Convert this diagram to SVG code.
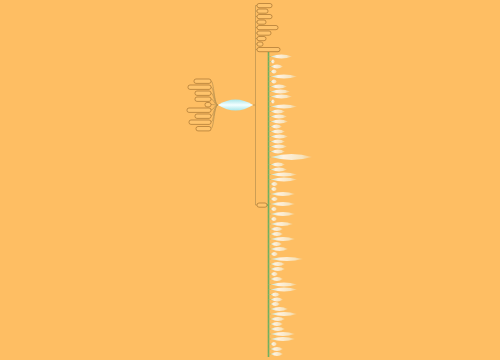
<svg xmlns="http://www.w3.org/2000/svg" width="500" height="360" viewBox="0 0 500 360">
<defs>
<linearGradient id="lg" x1="0" y1="0" x2="1" y2="0">
<stop offset="0" stop-color="#b9ece6" stop-opacity="0.9"/>
<stop offset="0.3" stop-color="#ffffff" stop-opacity="0.8"/>
<stop offset="0.75" stop-color="#f2fdfb" stop-opacity="0.6"/>
<stop offset="1" stop-color="#e8f8f2" stop-opacity="0.2"/>
</linearGradient>
<linearGradient id="cg" x1="0" y1="0" x2="0" y2="1">
<stop offset="0" stop-color="#a9e6ea"/>
<stop offset="0.5" stop-color="#f4ffff"/>
<stop offset="1" stop-color="#a9e6ea"/>
</linearGradient>
<style>
.box{fill:#ffc46c;stroke:#a87430;stroke-width:0.7}
.leaf{fill:url(#lg);stroke:none}
.br{fill:none;stroke:#c09650;stroke-width:0.8}
.gr{fill:none;stroke:#6fae5e;stroke-width:1.6}
.tk{fill:none;stroke:#9cc37a;stroke-width:0.6}
</style>
</defs>
<rect width="500" height="360" fill="#febe63"/>
<g id="connectors">
<path class="br" d="M218,105 C214,105 214,81 211,81 M218,105 C214,105 214,87 211,87 M218,105 C214,105 214,93 211,93 M218,105 C214,105 214,99 211,99 M218,105 C214,105 214,104.5 211,104.5 M218,105 C214,105 214,110 211,110 M218,105 C214,105 214,116 211,116 M218,105 C214,105 214,122 211,122 M218,105 C214,105 214,128.5 211,128.5"/>
<path class="br" d="M253,105 H255.5 M255.5,5.5 V205 M255.5,5.5 H257 M255.5,11 H257 M255.5,16.5 H257 M255.5,22 H257 M255.5,27.5 H257 M255.5,33 H257 M255.5,38.5 H257 M255.5,44 H257 M255.5,49.5 H257 M255.5,205 H257"/>
<path class="gr" d="M267,205 H268.5 M268.5,52 V357"/>
<path class="tk" d="M268.5,56.5H271M268.5,61.5H271M268.5,66.5H271M268.5,71.5H271M268.5,76.5H271M268.5,81.5H271M268.5,86.5H271M268.5,91.5H271M268.5,96.5H271M268.5,101.5H271M268.5,106.5H271M268.5,111.5H271M268.5,116.5H271M268.5,121.5H271M268.5,126.5H271M268.5,131.5H271M268.5,136.5H271M268.5,141.5H271M268.5,146.5H271M268.5,151.5H271M268.5,157H271M268.5,164.5H271M268.5,169.5H271M268.5,174.5H271M268.5,179.5H271M268.5,184H271M268.5,189H271M268.5,194H271M268.5,199H271M268.5,204H271M268.5,209H271M268.5,214H271M268.5,219H271M268.5,224H271M268.5,229H271M268.5,234H271M268.5,239H271M268.5,244H271M268.5,249H271M268.5,254H271M268.5,259H271M268.5,264H271M268.5,269H271M268.5,274H271M268.5,279H271M268.5,284.5H271M268.5,289.5H271M268.5,294.5H271M268.5,299.5H271M268.5,304H271M268.5,309H271M268.5,314H271M268.5,319H271M268.5,324H271M268.5,329H271M268.5,334H271M268.5,339H271M268.5,344H271M268.5,349H271M268.5,354H271"/>
</g>
<g id="center"><path d="M218,105 Q235.5,94 253,105 Q235.5,116 218,105 Z" fill="url(#cg)"/></g>
<g id="l1"><rect class="box" x="194" y="79" width="17" height="4.4" rx="2"/></g>
<g id="l2"><rect class="box" x="188" y="85" width="23" height="4.4" rx="2"/></g>
<g id="l3"><rect class="box" x="195" y="91" width="16" height="4.4" rx="2"/></g>
<g id="l4"><rect class="box" x="195" y="97" width="16" height="4.4" rx="2"/></g>
<g id="l5"><rect class="box" x="205" y="102.5" width="6" height="4.4" rx="2"/></g>
<g id="l6"><rect class="box" x="187" y="108" width="24" height="4.4" rx="2"/></g>
<g id="l7"><rect class="box" x="195" y="114" width="16" height="4.4" rx="2"/></g>
<g id="l8"><rect class="box" x="189" y="120" width="22" height="4.4" rx="2"/></g>
<g id="l9"><rect class="box" x="196" y="126.5" width="15" height="4.4" rx="2"/></g>
<g id="r1"><rect class="box" x="257" y="3.5" width="15" height="4.2" rx="2"/></g>
<g id="r2"><rect class="box" x="257" y="9" width="11" height="4.2" rx="2"/></g>
<g id="r3"><rect class="box" x="257" y="14.5" width="15" height="4.2" rx="2"/></g>
<g id="r4"><rect class="box" x="257" y="20" width="9" height="4.2" rx="2"/></g>
<g id="r5"><rect class="box" x="257" y="25.5" width="21" height="4.2" rx="2"/></g>
<g id="r6"><rect class="box" x="257" y="31" width="14" height="4.2" rx="2"/></g>
<g id="r7"><rect class="box" x="257" y="36.5" width="9" height="4.2" rx="2"/></g>
<g id="r8"><rect class="box" x="257" y="42" width="6" height="4.2" rx="2"/></g>
<g id="r9"><rect class="box" x="257" y="47.5" width="23" height="4.2" rx="2"/></g>
<g id="r10"><rect class="box" x="257" y="203" width="10" height="4.2" rx="2"/></g>
<g id="leaves">
<g id="n1"><path class="leaf" d="M271,56.5Q281.5,52.5 292,56.5Q281.5,60.5 271,56.5Z"/></g>
<g id="n2"><path class="leaf" d="M271,61.5Q273,57.5 275,61.5Q273,65.5 271,61.5Z"/></g>
<g id="n3"><path class="leaf" d="M271,66.5Q277,62.5 283,66.5Q277,70.5 271,66.5Z"/></g>
<g id="n4"><path class="leaf" d="M271,71.5Q274,67.5 277,71.5Q274,75.5 271,71.5Z"/></g>
<g id="n5"><path class="leaf" d="M271,76.5Q284,72.5 297,76.5Q284,80.5 271,76.5Z"/></g>
<g id="n6"><path class="leaf" d="M271,81.5Q274,77.5 277,81.5Q274,85.5 271,81.5Z"/></g>
<g id="n7"><path class="leaf" d="M271,86.5Q279,82.5 287,86.5Q279,90.5 271,86.5Z"/></g>
<g id="n8"><path class="leaf" d="M271,91.5Q280.5,87.5 290,91.5Q280.5,95.5 271,91.5Z"/></g>
<g id="n9"><path class="leaf" d="M271,96.5Q281.5,92.5 292,96.5Q281.5,100.5 271,96.5Z"/></g>
<g id="n10"><path class="leaf" d="M271,101.5Q273,97.5 275,101.5Q273,105.5 271,101.5Z"/></g>
<g id="n11"><path class="leaf" d="M271,106.5Q284,102.5 297,106.5Q284,110.5 271,106.5Z"/></g>
<g id="n12"><path class="leaf" d="M271,111.5Q278,107.5 285,111.5Q278,115.5 271,111.5Z"/></g>
<g id="n13"><path class="leaf" d="M271,116.5Q279,112.5 287,116.5Q279,120.5 271,116.5Z"/></g>
<g id="n14"><path class="leaf" d="M271,121.5Q279.5,117.5 288,121.5Q279.5,125.5 271,121.5Z"/></g>
<g id="n15"><path class="leaf" d="M271,126.5Q276.5,122.5 282,126.5Q276.5,130.5 271,126.5Z"/></g>
<g id="n16"><path class="leaf" d="M271,131.5Q278,127.5 285,131.5Q278,135.5 271,131.5Z"/></g>
<g id="n17"><path class="leaf" d="M271,136.5Q279.5,132.5 288,136.5Q279.5,140.5 271,136.5Z"/></g>
<g id="n18"><path class="leaf" d="M271,141.5Q278,137.5 285,141.5Q278,145.5 271,141.5Z"/></g>
<g id="n19"><path class="leaf" d="M271,146.5Q279,142.5 287,146.5Q279,150.5 271,146.5Z"/></g>
<g id="n20"><path class="leaf" d="M271,151.5Q278,147.5 285,151.5Q278,155.5 271,151.5Z"/></g>
<g id="n21"><path class="leaf" d="M271,157Q291.5,151 312,157Q291.5,163 271,157Z"/></g>
<g id="n22"><path class="leaf" d="M271,164.5Q278,160.5 285,164.5Q278,168.5 271,164.5Z"/></g>
<g id="n23"><path class="leaf" d="M271,169.5Q279,165.5 287,169.5Q279,173.5 271,169.5Z"/></g>
<g id="n24"><path class="leaf" d="M271,174.5Q284,170.5 297,174.5Q284,178.5 271,174.5Z"/></g>
<g id="n25"><path class="leaf" d="M271,179.5Q284,175.5 297,179.5Q284,183.5 271,179.5Z"/></g>
<g id="n26"><path class="leaf" d="M271,184Q274.5,180 278,184Q274.5,188 271,184Z"/></g>
<g id="n27"><path class="leaf" d="M271,189Q274,185 277,189Q274,193 271,189Z"/></g>
<g id="n28"><path class="leaf" d="M271,194Q283,190 295,194Q283,198 271,194Z"/></g>
<g id="n29"><path class="leaf" d="M271,199Q274.5,195 278,199Q274.5,203 271,199Z"/></g>
<g id="n30"><path class="leaf" d="M271,204Q283,200 295,204Q283,208 271,204Z"/></g>
<g id="n31"><path class="leaf" d="M271,209Q274,205 277,209Q274,213 271,209Z"/></g>
<g id="n32"><path class="leaf" d="M271,214Q283,210 295,214Q283,218 271,214Z"/></g>
<g id="n33"><path class="leaf" d="M271,219Q274,215 277,219Q274,223 271,219Z"/></g>
<g id="n34"><path class="leaf" d="M271,224Q282,220 293,224Q282,228 271,224Z"/></g>
<g id="n35"><path class="leaf" d="M271,229Q277,225 283,229Q277,233 271,229Z"/></g>
<g id="n36"><path class="leaf" d="M271,234Q277,230 283,234Q277,238 271,234Z"/></g>
<g id="n37"><path class="leaf" d="M271,239Q283,235 295,239Q283,243 271,239Z"/></g>
<g id="n38"><path class="leaf" d="M271,244Q276.5,240 282,244Q276.5,248 271,244Z"/></g>
<g id="n39"><path class="leaf" d="M271,249Q279.5,245 288,249Q279.5,253 271,249Z"/></g>
<g id="n40"><path class="leaf" d="M271,254Q274.5,250 278,254Q274.5,258 271,254Z"/></g>
<g id="n41"><path class="leaf" d="M271,259Q287,255 303,259Q287,263 271,259Z"/></g>
<g id="n42"><path class="leaf" d="M271,264Q278,260 285,264Q278,268 271,264Z"/></g>
<g id="n43"><path class="leaf" d="M271,269Q278,265 285,269Q278,273 271,269Z"/></g>
<g id="n44"><path class="leaf" d="M271,274Q274.5,270 278,274Q274.5,278 271,274Z"/></g>
<g id="n45"><path class="leaf" d="M271,279Q277,275 283,279Q277,283 271,279Z"/></g>
<g id="n46"><path class="leaf" d="M271,284.5Q284,280.5 297,284.5Q284,288.5 271,284.5Z"/></g>
<g id="n47"><path class="leaf" d="M271,289.5Q284,285.5 297,289.5Q284,293.5 271,289.5Z"/></g>
<g id="n48"><path class="leaf" d="M271,294.5Q275.5,290.5 280,294.5Q275.5,298.5 271,294.5Z"/></g>
<g id="n49"><path class="leaf" d="M271,299.5Q277,295.5 283,299.5Q277,303.5 271,299.5Z"/></g>
<g id="n50"><path class="leaf" d="M271,304Q275.5,300 280,304Q275.5,308 271,304Z"/></g>
<g id="n51"><path class="leaf" d="M271,309Q279.5,305 288,309Q279.5,313 271,309Z"/></g>
<g id="n52"><path class="leaf" d="M271,314Q284,310 297,314Q284,318 271,314Z"/></g>
<g id="n53"><path class="leaf" d="M271,319Q278,315 285,319Q278,323 271,319Z"/></g>
<g id="n54"><path class="leaf" d="M271,324Q277,320 283,324Q277,328 271,324Z"/></g>
<g id="n55"><path class="leaf" d="M271,329Q278,325 285,329Q278,333 271,329Z"/></g>
<g id="n56"><path class="leaf" d="M271,334Q283,330 295,334Q283,338 271,334Z"/></g>
<g id="n57"><path class="leaf" d="M271,339Q283,335 295,339Q283,343 271,339Z"/></g>
<g id="n58"><path class="leaf" d="M271,344Q274,340 277,344Q274,348 271,344Z"/></g>
<g id="n59"><path class="leaf" d="M271,349Q277,345 283,349Q277,353 271,349Z"/></g>
<g id="n60"><path class="leaf" d="M271,354Q277,350 283,354Q277,358 271,354Z"/></g>
</g>
</svg>
